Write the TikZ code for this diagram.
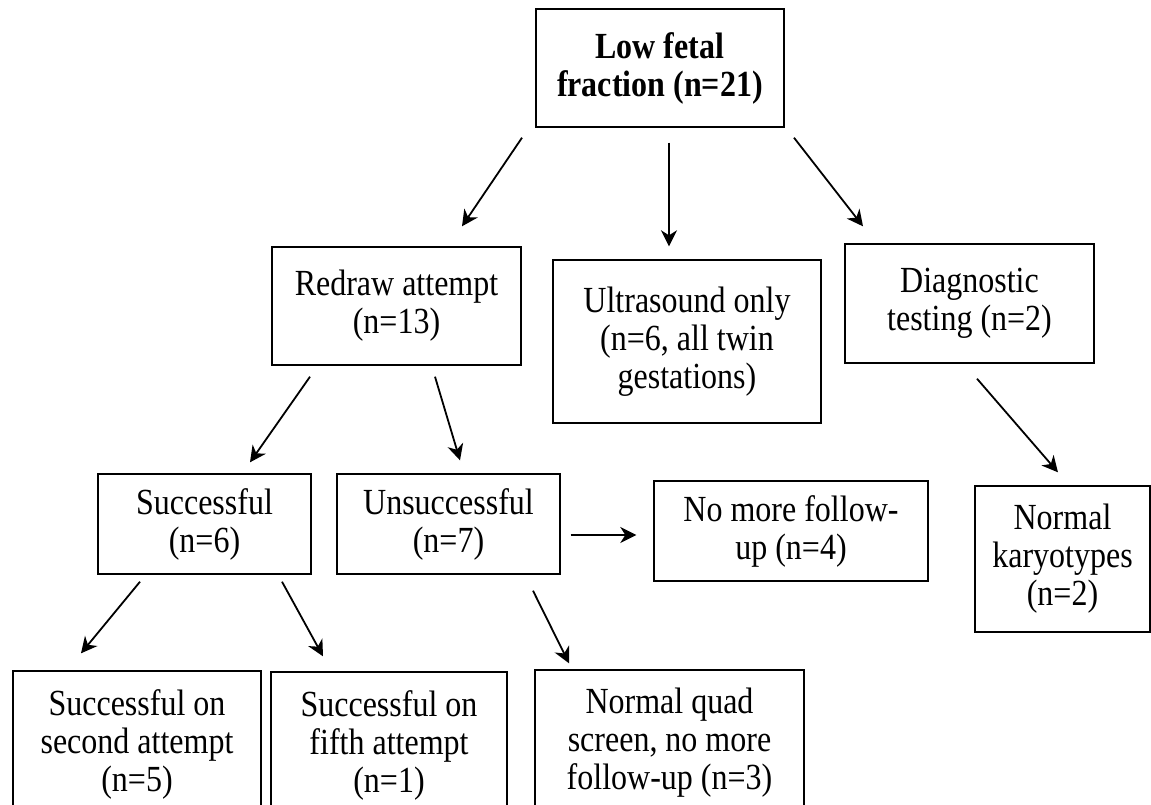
\documentclass[tikz,border=0pt]{standalone}
\usepackage{fontspec}
\usepackage{graphicx}
\setmainfont{Liberation Serif}
\usetikzlibrary{arrows.meta,calc}
\newcommand{\tl}[1]{\scalebox{1}[1.15]{#1}}

\begin{document}
\begin{tikzpicture}[x=1pt, y=-1pt, font=\fontsize{32}{38}\selectfont,
    every node/.style={align=center},
    box/.style={draw, line width=1.4pt, inner sep=0pt},
    arr/.style={-{Stealth[length=16pt,width=16pt,inset=5pt]}, line width=1.8pt}]
  \useasboundingbox (0,0) rectangle (1151,804);

  \node[box,minimum width=248pt,minimum height=118pt,font=\fontsize{32}{38}\selectfont\bfseries] (root) at (660,68) {\tl{Low fetal}\\\tl{fraction (n=21)}};

  \node[box,minimum width=249pt,minimum height=118pt] (redraw) at (396.5,306) {\tl{Redraw attempt}\\\tl{(n=13)}};
  \node[box,minimum width=268pt,minimum height=163pt] (ultra) at (687,341.5) {\tl{Ultrasound only}\\\tl{(n=6, all twin}\\\tl{gestations)}};
  \node[box,minimum width=249pt,minimum height=119pt] (diag) at (969.5,303.5) {\tl{Diagnostic}\\\tl{testing (n=2)}};

  \node[box,minimum width=213pt,minimum height=100pt] (succ) at (204.5,524) {\tl{Successful}\\\tl{(n=6)}};
  \node[box,minimum width=223pt,minimum height=100pt] (unsucc) at (448.5,524) {\tl{Unsuccessful}\\\tl{(n=7)}};
  \node[box,minimum width=274pt,minimum height=100pt] (nofollow) at (791,531) {\tl{No more follow-}\\\tl{up (n=4)}};
  \node[box,minimum width=175pt,minimum height=146pt] (karyo) at (1062.5,559) {\tl{Normal}\\\tl{karyotypes}\\\tl{(n=2)}};

  \node[box,minimum width=248pt,minimum height=146pt] (second) at (137,744) {\tl{Successful on}\\\tl{second attempt}\\\tl{(n=5)}};
  \node[box,minimum width=236pt,minimum height=146pt] (fifth) at (389,745) {\tl{Successful on}\\\tl{fifth attempt}\\\tl{(n=1)}};
  \node[box,minimum width=269pt,minimum height=146pt] (quad) at (669.5,743) {\tl{Normal quad}\\\tl{screen, no more}\\\tl{follow-up (n=3)}};

  % arrows float in the gaps between the boxes
  \draw[arr] ($(root.south)+(-138,10)$) -- ($(redraw.north)+(65.5,-20)$);
  \draw[arr] ($(root.south)+(9,15)$) -- ($(ultra.north)+(-18,-13)$);
  \draw[arr] ($(root.south)+(134,10)$) -- ($(diag.north)+(-106.5,-17)$);

  \draw[arr] ($(redraw.south)+(-86.5,11)$) -- ($(succ.north)+(45.5,-11)$);
  \draw[arr] ($(redraw.south)+(38.5,11)$) -- ($(unsucc.north)+(11.5,-13)$);
  \draw[arr] ($(diag.south)+(7.5,15)$) -- ($(karyo.north)+(-4.5,-13)$);

  \draw[arr] ($(succ.south)+(-64.5,7)$) -- ($(second.north)+(-56,-17)$);
  \draw[arr] ($(succ.south)+(77.5,7)$) -- ($(fifth.north)+(-66,-15)$);
  \draw[arr] ($(unsucc.east)+(10,11)$) -- ($(nofollow.west)+(-17,4)$);
  \draw[arr] ($(unsucc.south)+(84.5,16)$) -- ($(quad.north)+(-100.5,-6)$);
\end{tikzpicture}
\end{document}
